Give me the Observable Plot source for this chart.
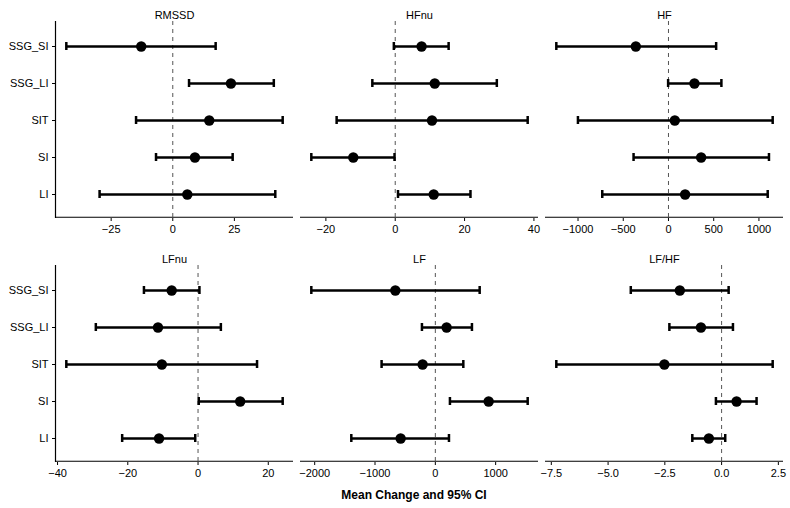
<!DOCTYPE html>
<html>
<head>
<meta charset="utf-8">
<script src="https://cdn.jsdelivr.net/npm/d3@7"></script>
<script src="https://cdn.jsdelivr.net/npm/@observablehq/plot@0.6"></script>
<style>
  body { margin: 0; background: #fff; }
  #chart { position: relative; width: 790px; height: 508px; font-family: "Liberation Sans", Arial, Helvetica, sans-serif; }
  #chart svg { position: absolute; overflow: visible; }
  #caption { position: absolute; top: 486px; left: 55px; width: 718px; text-align: center;
             font-weight: bold; font-size: 12px; line-height: 18px; color: #000; }
</style>
</head>
<body>
<div id="chart"><div id="caption">Mean Change and 95% CI</div></div>
<script>
// Groups, listed top to bottom
const groups = ["SSG_SI", "SSG_LI", "SIT", "SI", "LI"];

// Per outcome: one row per group, [lower 95% CI, mean change, upper 95% CI]
const rmssd = [[-43.2, -12.8, 17.4], [6.6, 23.6, 41.0], [-14.9, 14.8, 44.6], [-6.8, 9.0, 24.3], [-29.7, 5.9, 41.6]];
const hfnu  = [[-0.4, 7.6, 15.4], [-6.6, 11.4, 29.3], [-16.9, 10.6, 38.2], [-24.2, -12.1, -0.2], [0.8, 11.1, 21.7]];
const hf    = [[-1240, -361, 527], [-4, 287, 585], [-1001, 70, 1152], [-386, 361, 1111], [-732, 184, 1097]];
const lfnu  = [[-15.4, -7.5, 0.4], [-29.1, -11.4, 6.5], [-37.5, -10.3, 16.8], [0.2, 12.0, 24.1], [-21.6, -11.1, -0.8]];
const lf    = [[-2056, -663, 735], [-222, 187, 607], [-891, -211, 464], [242, 884, 1531], [-1393, -575, 226]];
const lfhf  = [[-4.0, -1.84, 0.31], [-2.30, -0.91, 0.50], [-7.28, -2.52, 2.25], [-0.25, 0.66, 1.54], [-1.29, -0.56, 0.16]];

// Axis tick values per panel
const ticksRmssd = [-25, 0, 25];
const ticksHfnu  = [-20, 0, 20, 40];
const ticksHf    = [-1000, -500, 0, 500, 1000];
const ticksLfnu  = [-40, -20, 0, 20];
const ticksLf    = [-2000, -1000, 0, 1000];
const ticksLfhf  = [-7.5, -5.0, -2.5, 0.0, 2.5];

const panels = [
  {title: "RMSSD", rows: rmssd, ticks: ticksRmssd, fmt: d3.format("d"),   row: 0, col: 0},
  {title: "HFnu",  rows: hfnu,  ticks: ticksHfnu,  fmt: d3.format("d"),   row: 0, col: 1},
  {title: "HF",    rows: hf,    ticks: ticksHf,    fmt: d3.format("d"),   row: 0, col: 2},
  {title: "LFnu",  rows: lfnu,  ticks: ticksLfnu,  fmt: d3.format("d"),   row: 1, col: 0},
  {title: "LF",    rows: lf,    ticks: ticksLf,    fmt: d3.format("d"),   row: 1, col: 1},
  {title: "LF/HF", rows: lfhf,  ticks: ticksLfhf,  fmt: d3.format(".1f"), row: 1, col: 2}
];

// Layout of the 2 x 3 grid of panels
const panelW = 238, panelH = 197;
const mTop = 21, mBottom = 30;
const cols = [
  {left: 0,   mLeft: 55, mRight: 8},
  {left: 290, mLeft: 10, mRight: 8},
  {left: 535, mLeft: 10, mRight: 7}
];
const rowTops = [0, 244];

// Discrete axis: 0.6 of a step of empty space above the first and below the last group
const outerSteps = 0.6;
const step = panelH / (groups.length - 1 + 2 * outerSteps);
const capHeight = 8;
const paddingInner = 1 - capHeight / step;
const paddingOuter = outerSteps - (1 - paddingInner) / 2;

// Continuous range padded by 5% on each side
function expand(lo, hi) {
  const pad = (hi - lo) * 0.05;
  return [lo - pad, hi + pad];
}

const font = "'Liberation Sans', Arial, Helvetica, sans-serif";
const chart = document.getElementById("chart");

for (const p of panels) {
  const data = p.rows.map(([lower, mean, upper], i) => ({group: groups[i], lower, mean, upper}));
  const c = cols[p.col];
  const showY = p.col === 0;
  const xDomain = expand(d3.min(data, d => d.lower), d3.max(data, d => d.upper));

  const svg = Plot.plot({
    width: c.mLeft + panelW + c.mRight,
    height: mTop + panelH + mBottom,
    marginLeft: c.mLeft,
    marginRight: c.mRight,
    marginTop: mTop,
    marginBottom: mBottom,
    style: {fontFamily: font, fontSize: "11px", color: "#000", background: "transparent", overflow: "visible"},
    x: {
      domain: xDomain,
      ticks: p.ticks,
      tickFormat: p.fmt,
      tickSize: 3,
      tickPadding: 4,
      label: null
    },
    y: Object.assign(
      {type: "band", domain: groups, paddingInner, paddingOuter},
      showY ? {tickSize: 3, tickPadding: 4, label: null} : {axis: null}
    ),
    marks: [
      // axis lines: bottom everywhere, left on the first column only
      Plot.ruleY([groups[groups.length - 1]], {dy: step * outerSteps, x1: xDomain[0], x2: xDomain[1], stroke: "#000", strokeWidth: 1.2}),
      showY ? Plot.ruleX([xDomain[0]], {stroke: "#000", strokeWidth: 1.2}) : null,
      // zero reference
      Plot.ruleX([0], {stroke: "#555", strokeWidth: 1, strokeDasharray: "4,4"}),
      // confidence intervals with end caps, then the means
      Plot.ruleY(data, {y: "group", x1: "lower", x2: "upper", stroke: "#000", strokeWidth: 2.5}),
      Plot.tickX(data, {x: "lower", y: "group", stroke: "#000", strokeWidth: 2.5}),
      Plot.tickX(data, {x: "upper", y: "group", stroke: "#000", strokeWidth: 2.5}),
      Plot.dot(data, {x: "mean", y: "group", r: 5.2, fill: "#000", stroke: "none"}),
      // panel title
      Plot.text([p.title], {frameAnchor: "top", dy: -10, fontSize: 11, fill: "#000"})
    ]
  });
  svg.style.left = c.left + "px";
  svg.style.top = rowTops[p.row] + "px";
  chart.appendChild(svg);
}
</script>
</body>
</html>
